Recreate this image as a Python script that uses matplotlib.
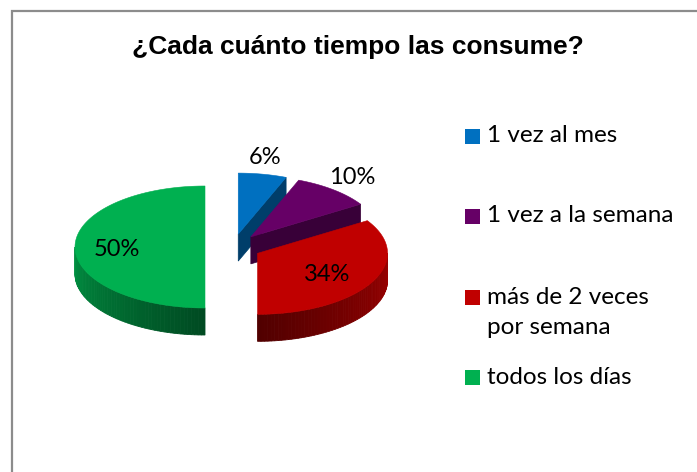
import numpy as np
import matplotlib.pyplot as plt
import matplotlib.colors as mcolors
from matplotlib.patches import Polygon, Rectangle

# data
categories = ["1 vez al mes", "1 vez a la semana", "más de 2 veces\npor semana", "todos los días"]
values = [6, 10, 34, 50]
pct_labels = ["6%", "10%", "34%", "50%"]
colors = ["#0070C0", "#660066", "#C00000", "#00B050"]
title = "¿Cada cuánto tiempo las consume?"

# pie geometry (pixel space)
CX, CY = 233, 247
RX, RY = 130, 61
DEPTH = 27
EXPLODE = 28

LABEL_FONT = ["Lato", "DejaVu Sans"]


def pt(ox, oy, theta, z=0.0):
    t = np.radians(theta)
    return ox + RX * np.sin(t), oy - RY * np.cos(t) + z


def shade(color, f):
    r, g, b = mcolors.to_rgb(color)
    return (r * f, g * f, b * f)


def draw_slice(ax, a0, a1, color):
    mid = np.radians((a0 + a1) / 2)
    ox = CX + EXPLODE * np.sin(mid)
    oy = CY - EXPLODE * np.cos(mid) * RY / RX
    side = shade(color, 0.55)

    # radial faces, only the ones facing the viewer
    for a, visible in ((a0, np.sin(np.radians(a0)) < -1e-6),
                       (a1, np.sin(np.radians(a1)) > 1e-6)):
        if visible:
            px, py = pt(ox, oy, a)
            quad = [(ox, oy), (px, py), (px, py + DEPTH), (ox, oy + DEPTH)]
            ax.add_patch(Polygon(quad, closed=True, facecolor=side,
                                 edgecolor=side, lw=0.5))

    # outer wall, front half only, with a soft gradient
    w0, w1 = max(a0, 90), min(a1, 270)
    if w1 > w0:
        th = np.linspace(w0, w1, 60)
        for t0, t1 in zip(th[:-1], th[1:]):
            f = 0.42 + 0.4 * abs((t0 + t1) / 2 - 180) / 90
            c = shade(color, f)
            p0 = pt(ox, oy, t0)
            p1 = pt(ox, oy, t1)
            quad = [p0, p1, (p1[0], p1[1] + DEPTH), (p0[0], p0[1] + DEPTH)]
            ax.add_patch(Polygon(quad, closed=True, facecolor=c,
                                 edgecolor=c, lw=0.6))

    # top face
    th = np.linspace(a0, a1, 120)
    xs, ys = pt(ox, oy, th)
    top = [(ox, oy)] + list(zip(xs, ys))
    ax.add_patch(Polygon(top, closed=True, facecolor=color,
                         edgecolor=color, lw=0.4))
    return ox, oy, (a0 + a1) / 2


fig = plt.figure(figsize=(6.97, 4.72), dpi=100)
ax = fig.add_axes([0, 0, 1, 1])
ax.set_xlim(0, 697)
ax.set_ylim(472, 0)
ax.axis("off")

# chart border (top and left are visible in the crop)
ax.plot([12, 12, 697], [472, 10.5, 10.5], color="#8c8c8c", lw=1.6,
        solid_joinstyle="miter")

ax.text(358, 47, title, ha="center", va="center", fontsize=19,
        fontweight="bold", family=["Liberation Sans", "DejaVu Sans"])

fr = np.array(values, dtype=float) / sum(values)
ends = 360 * np.cumsum(fr)
starts = ends - 360 * fr

slices = []
for i in range(len(values)):
    mid = np.radians((starts[i] + ends[i]) / 2)
    oy = CY - EXPLODE * np.cos(mid) * RY / RX
    slices.append((oy, i))

label_pos = {}
for _, i in sorted(slices):
    label_pos[i] = draw_slice(ax, starts[i], ends[i], colors[i])

for i, lab in enumerate(pct_labels):
    ox, oy, m = label_pos[i]
    outside = fr[i] < 0.15
    r = 1.27 if outside else 0.65
    t = np.radians(m)
    lx = ox + r * RX * np.sin(t) - 4
    ly = oy - r * RY * np.cos(t) + (0 if outside else 2)
    ax.text(lx, ly, lab, ha="center", va="center", fontsize=17,
            family=LABEL_FONT, color="black")

# legend
leg_y = [136, 216, 297, 377]
for cat, col, y in zip(categories, colors, leg_y):
    ax.add_patch(Rectangle((465, y - 7.5), 15, 15, facecolor=col, edgecolor="none"))
    for j, line in enumerate(cat.split("\n")):
        ax.text(487, y + 30 * j, line, ha="left", va="center", fontsize=17.5,
                family=LABEL_FONT, color="black")

fig.savefig("out.png", dpi=100)
